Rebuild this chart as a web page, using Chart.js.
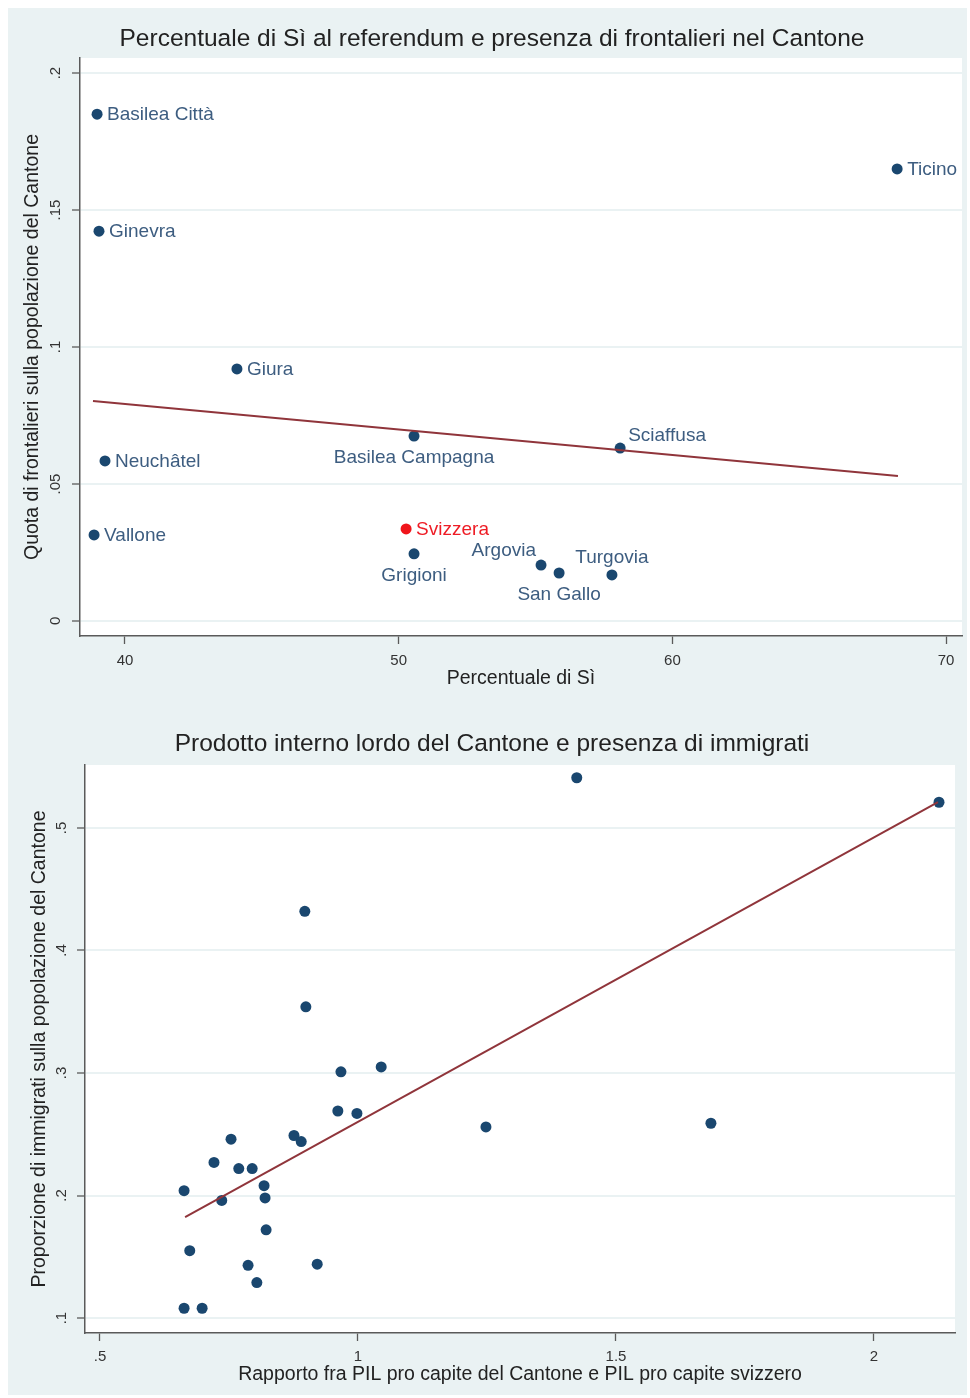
<!DOCTYPE html>
<html>
<head>
<meta charset="utf-8">
<script src="https://cdn.jsdelivr.net/npm/chart.js@4.4.1/dist/chart.umd.min.js"></script>
<style>
body { margin:0; background:#fff; width:970px; height:1398px; overflow:hidden; position:relative; }
#sfondo { position:absolute; left:8px; top:8px; width:959px; height:1387px; background:#eaf2f3; }
#c1 { position:absolute; left:0; top:0; width:970px; height:700px; }
#c2 { position:absolute; left:0; top:700px; width:970px; height:698px; }
</style>
</head>
<body>
<div id="sfondo"></div>
<canvas id="c1" width="970" height="700"></canvas>
<canvas id="c2" width="970" height="698"></canvas>
<script>
// grafico 1 - referendum e frontalieri
var cantoni = ["Basilea Città","Ginevra","Giura","Neuchâtel","Vallone","Basilea Campagna","Sciaffusa","Ticino","Svizzera","Grigioni","Argovia","San Gallo","Turgovia"];
var percSi = [38.98, 39.05, 44.09, 39.27, 38.87, 50.56, 58.09, 68.21, 50.27, 50.56, 55.20, 55.86, 57.79];
var quotaFront = [0.185, 0.1423, 0.092, 0.0584, 0.0314, 0.0675, 0.0631, 0.165, 0.0336, 0.0245, 0.0204, 0.0175, 0.0168];
var fit1X = [38.83, 68.24];
var fit1Y = [0.0803, 0.0529];
var x1Ticks = [40, 50, 60, 70];
var x1Labels = ["40", "50", "60", "70"];
var y1Ticks = [0, 0.05, 0.1, 0.15, 0.2];
var y1Labels = ["0", ".05", ".1", ".15", ".2"];

// grafico 2 - PIL e immigrati
var pilRapporto = [1.424, 2.126, 0.897, 0.899, 0.967, 1.045, 0.961, 0.998, 1.248, 1.684, 0.754, 0.876, 0.890, 0.721,
                   0.769, 0.795, 0.663, 0.736, 0.818, 0.820, 0.822, 0.674, 0.787, 0.921, 0.804, 0.663, 0.698];
var immigrati = [0.541, 0.521, 0.432, 0.354, 0.301, 0.305, 0.269, 0.267, 0.256, 0.259, 0.246, 0.249, 0.244, 0.227,
                 0.222, 0.222, 0.204, 0.196, 0.208, 0.198, 0.172, 0.155, 0.143, 0.144, 0.129, 0.108, 0.108];
var fit2X = [0.665, 2.124];
var fit2Y = [0.1824, 0.521];
var x2Ticks = [0.5, 1, 1.5, 2];
var x2Labels = [".5", "1", "1.5", "2"];
var y2Ticks = [0.1, 0.2, 0.3, 0.4, 0.5];
var y2Labels = [".1", ".2", ".3", ".4", ".5"];

var font = "'Liberation Sans', Arial, sans-serif";

// dove mettere le etichette (default a destra)
var posEtichetta = { "Basilea Campagna": "sotto", "Grigioni": "sotto", "San Gallo": "sotto",
                     "Argovia": "sopraSx", "Turgovia": "sopra", "Sciaffusa": "sopraDx" };

function grafico(id, o) {
  var punti = o.xs.map(function(v, i) { return {x: v, y: o.ys[i]}; });
  var retta = o.fitX.map(function(v, i) { return {x: v, y: o.fitY[i]}; });

  return new Chart(document.getElementById(id), {
    type: 'scatter',
    data: {
      datasets: [
        {
          data: punti,
          pointRadius: 5.5,
          pointHoverRadius: 5.5,
          pointBorderWidth: 0,
          pointBackgroundColor: function(c) {
            return (o.nomi && o.nomi[c.dataIndex] === 'Svizzera') ? '#f0151b' : '#1a476f';
          },
          order: 1
        },
        {
          type: 'line',
          data: retta,
          showLine: true,
          borderColor: '#90353b',
          borderWidth: 2,
          pointRadius: 0,
          fill: false,
          order: 0
        }
      ]
    },
    options: {
      responsive: false,
      animation: false,
      layout: { padding: { top: o.padTop, right: o.padRight, left: 0, bottom: 0 } },
      plugins: { legend: { display: false }, tooltip: { enabled: false }, title: { display: false } },
      scales: {
        x: {
          type: 'linear', min: o.xMin, max: o.xMax,
          afterBuildTicks: function(s) { s.ticks = o.xTicks.map(function(v) { return {value: v}; }); },
          afterFit: function(s) { s.height = o.xHeight; },
          ticks: {
            callback: function(v, i) { return o.xLabels[i]; },
            maxRotation: 0, minRotation: 0, padding: o.xTickPad,
            color: '#333', font: { family: font, size: 15 }
          },
          grid: { drawOnChartArea: false, drawTicks: true, tickLength: 8, tickColor: '#5a5a5a', tickWidth: 1.3 },
          border: { display: true, color: '#5a5a5a', width: 1.5 },
          title: { display: true, text: o.xTitle, color: '#222', font: { family: font, size: 19.5 },
                   padding: { top: 0, bottom: o.xTitlePad } }
        },
        y: {
          type: 'linear', min: o.yMin, max: o.yMax,
          afterBuildTicks: function(s) { s.ticks = o.yTicks.map(function(v) { return {value: v}; }); },
          afterFit: function(s) { s.width = o.yWidth; },
          ticks: { display: false },
          grid: { color: '#eaf2f3', lineWidth: 2, drawTicks: true, tickLength: 8, tickColor: '#5a5a5a', tickWidth: 1.3 },
          border: { display: true, color: '#5a5a5a', width: 1.5 },
          title: { display: true, text: o.yTitle, color: '#222', font: { family: font, size: 19.5 },
                   padding: { top: o.yTitlePad, bottom: 0 } }
        }
      }
    },
    plugins: [{
      id: 'stataLook',
      beforeDraw: function(ch) {
        var a = ch.chartArea, ctx = ch.ctx;
        ctx.save();
        ctx.fillStyle = '#ffffff';
        ctx.fillRect(a.left, a.top, a.right - a.left, a.bottom - a.top);
        ctx.restore();
      },
      afterDraw: function(ch) {
        var ctx = ch.ctx;
        ctx.save();
        // titolo
        ctx.fillStyle = '#222';
        ctx.font = '24.5px ' + font;
        ctx.textAlign = 'center';
        ctx.textBaseline = 'middle';
        ctx.fillText(o.title, o.titleX, o.titleY);

        // etichette asse y ruotate
        var ys = ch.scales.y;
        ctx.font = '15px ' + font;
        ctx.fillStyle = '#333';
        o.yTicks.forEach(function(v, i) {
          var py = ys.getPixelForValue(v);
          ctx.save();
          ctx.translate(o.yLabelX, py);
          ctx.rotate(-Math.PI / 2);
          ctx.fillText(o.yLabels[i], 0, 0);
          ctx.restore();
        });

        // nomi dei cantoni
        if (o.nomi) {
          var meta = ch.getDatasetMeta(0);
          ctx.font = '19px ' + font;
          meta.data.forEach(function(p, i) {
            var nome = o.nomi[i];
            var pos = posEtichetta[nome] || 'destra';
            ctx.fillStyle = nome === 'Svizzera' ? '#ee1c25' : '#3d5d80';
            var x = p.x, y = p.y;
            if (pos === 'sotto') { ctx.textAlign = 'center'; ctx.fillText(nome, x, y + 22); }
            else if (pos === 'sopra') { ctx.textAlign = 'center'; ctx.fillText(nome, x, y - 17); }
            else if (pos === 'sopraSx') { ctx.textAlign = 'right'; ctx.fillText(nome, x - 5, y - 14); }
            else if (pos === 'sopraDx') { ctx.textAlign = 'left'; ctx.fillText(nome, x + 8, y - 12); }
            else { ctx.textAlign = 'left'; ctx.fillText(nome, x + 10, y + 1); }
          });
        }
        ctx.restore();
      }
    }]
  });
}

grafico('c1', {
  xs: percSi, ys: quotaFront, nomi: cantoni, fitX: fit1X, fitY: fit1Y,
  title: 'Percentuale di Sì al referendum e presenza di frontalieri nel Cantone', titleX: 492, titleY: 39,
  xTitle: 'Percentuale di Sì', yTitle: 'Quota di frontalieri sulla popolazione del Cantone',
  xMin: 38.356, xMax: 70.58, yMin: -0.0055, yMax: 0.2055,
  xTicks: x1Ticks, xLabels: x1Labels, yTicks: y1Ticks, yLabels: y1Labels,
  padTop: 58, padRight: 8, yWidth: 80, xHeight: 64,
  xTickPad: 8, xTitlePad: 10, yTitlePad: 21, yLabelX: 56
});

grafico('c2', {
  xs: pilRapporto, ys: immigrati, nomi: null, fitX: fit2X, fitY: fit2Y,
  title: 'Prodotto interno lordo del Cantone e presenza di immigrati', titleX: 492, titleY: 44,
  xTitle: 'Rapporto fra PIL pro capite del Cantone e PIL pro capite svizzero',
  yTitle: 'Proporzione di immigrati sulla popolazione del Cantone',
  xMin: 0.471, xMax: 2.157, yMin: 0.0878, yMax: 0.5514,
  xTicks: x2Ticks, xLabels: x2Labels, yTicks: y2Ticks, yLabels: y2Labels,
  padTop: 65, padRight: 15, yWidth: 85, xHeight: 65,
  xTickPad: 7, xTitlePad: 12, yTitlePad: 28, yLabelX: 62
});
</script>
</body>
</html>
